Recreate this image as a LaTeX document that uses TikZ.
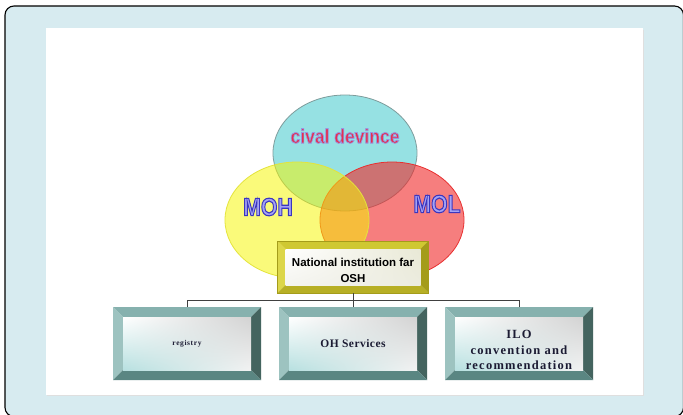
\documentclass[tikz,border=0pt]{standalone}
\usepackage{fontspec}
\setmainfont{Liberation Serif}
\setsansfont{Liberation Sans}
\usepackage{graphicx}
\usetikzlibrary{positioning, shadings}

\definecolor{framebg}{HTML}{D7EBF0}
\definecolor{cyanfill}{HTML}{96E1E3}
\definecolor{cyanrim}{HTML}{7E9C9C}
\definecolor{redfill}{HTML}{F02828}
\definecolor{redrim}{HTML}{E83030}
\definecolor{yellowfill}{HTML}{F7F700}
\definecolor{yellowrim}{HTML}{E4E43C}
\definecolor{civalred}{HTML}{E6304E}
\definecolor{mofill}{HTML}{A4A2F4}
\definecolor{tealtop}{HTML}{86B1AE}
\definecolor{tealleft}{HTML}{9DC3C0}
\definecolor{tealright}{HTML}{44645F}
\definecolor{tealbot}{HTML}{5A8682}
\definecolor{olivetop}{HTML}{CFC832}
\definecolor{oliveleft}{HTML}{DCD64A}
\definecolor{oliveright}{HTML}{A49C1A}
\definecolor{olivebot}{HTML}{B7AF25}
\definecolor{boxtext}{HTML}{1B1B33}
\definecolor{connline}{HTML}{404040}

% word-art text: filled glyphs with a stroked rim (rim rgb, rim width, text)
\newcommand\rimtext[3]{%
  \special{pdf:literal direct 2 Tr #2 w #1 RG}#3\special{pdf:literal direct 0 Tr}}

% four bevel bands and a shaded face inside a node
\newcommand\bevelfill[6]{%
  \path (path picture bounding box.north west) coordinate (bv-nw)
        (path picture bounding box.north east) coordinate (bv-ne)
        (path picture bounding box.south west) coordinate (bv-sw)
        (path picture bounding box.south east) coordinate (bv-se);
  \path ([xshift=#1,yshift=-#1]bv-nw) coordinate (bv-inw)
        ([xshift=-#1,yshift=-#1]bv-ne) coordinate (bv-ine)
        ([xshift=#1,yshift=#1]bv-sw) coordinate (bv-isw)
        ([xshift=-#1,yshift=#1]bv-se) coordinate (bv-ise);
  \fill[#2] (bv-nw) -- (bv-ne) -- (bv-ine) -- (bv-inw) -- cycle;
  \fill[#3] (bv-nw) -- (bv-inw) -- (bv-isw) -- (bv-sw) -- cycle;
  \fill[#4] (bv-ne) -- (bv-se) -- (bv-ise) -- (bv-ine) -- cycle;
  \fill[#5] (bv-sw) -- (bv-isw) -- (bv-ise) -- (bv-se) -- cycle;
  \shade[#6] (bv-inw) rectangle (bv-ise);
}

\tikzset{
  tealbox/.style={rectangle, minimum width=148pt, minimum height=73pt, inner sep=0pt, align=center,
    text=boxtext, font=\rmfamily\bfseries\fontsize{11.5}{16}\selectfont,
    path picture={\bevelfill{10pt}{tealtop}{tealleft}{tealright}{tealbot}%
      {upper left=white, upper right=gray!35, lower left=gray!60!cyan!40, lower right=gray!10}}},
  natbox/.style={rectangle, minimum width=151pt, minimum height=52pt, inner sep=0pt, align=center,
    draw=oliveright, line width=0.4pt,
    font=\sffamily\bfseries\fontsize{11.5}{16}\selectfont,
    path picture={\bevelfill{8pt}{olivetop}{oliveleft}{oliveright}{olivebot}%
      {upper left=white, upper right=yellow!30!gray!25, lower left=yellow!15!gray!10, lower right=yellow!25!gray!20}}},
  wordart/.style={inner sep=0pt, font=\sffamily\bfseries\fontsize{25}{25}\selectfont}
}

\begin{document}
\begin{tikzpicture}[x=1pt, y=-1pt,
    conn/.style={draw=connline, line width=0.9pt}]

% Panels
\useasboundingbox (0,0) rectangle (683,415);
\filldraw[fill=framebg, draw=black, line width=1.1pt, rounded corners=9pt] (5,6) rectangle (683.5,416.5);
\fill[gray!25] (47,29.5) rectangle (644,396);
\fill[white] (46,28) rectangle (643,395);

% Venn ellipses
\filldraw[fill=cyanfill, draw=cyanrim, line width=0.8pt] (345,153) ellipse [x radius=72, y radius=58];
\filldraw[fill=redfill, fill opacity=0.6, draw=redrim, line width=0.8pt] (392,220) ellipse [x radius=72, y radius=58];
\filldraw[fill=yellowfill, fill opacity=0.52, draw=yellowrim, line width=0.8pt] (297,220) ellipse [x radius=72, y radius=58];

% Ellipse labels
\node[wordart, text=civalred, font=\sffamily\bfseries\fontsize{20}{20}\selectfont] (cival) at (345,136)
  {\scalebox{0.875}[1]{\rimtext{0.6 0.58 0.88}{0.8}{cival devince}}};
\node[wordart, text=mofill] (moh) at (268,207) {\scalebox{0.85}[1]{\rimtext{0.23 0.21 0.75}{1.1}{MOH}}};
\node[wordart, text=mofill] (mol) at (437,204) {\scalebox{0.85}[1]{\rimtext{0.23 0.21 0.75}{1.1}{MOL}}};

% Boxes
\node[natbox] (nat) at (353,267) {\rule{0pt}{15pt}National institution far\\OSH};
\node[tealbox] (reg) at (187,343.5) {\fontsize{7.5}{9}\selectfont\addfontfeatures{LetterSpace=8}registry};
\node[tealbox] (ohs) at (353,343.5) {\addfontfeatures{LetterSpace=4}OH Services};
\node[tealbox, font=\rmfamily\bfseries\fontsize{12.5}{15.5}\selectfont\addfontfeatures{LetterSpace=10}] (ilo) at (519,343.5)
  {\rule{0pt}{22pt}ILO\\convention and\\recommendation};

% Tree lines
\draw[conn] (nat.south) -- ++(0,7) -| (reg.north);
\draw[conn] (nat.south) -- ++(0,7) -| (ilo.north);
\draw[conn] (nat.south) -- (ohs.north);

\end{tikzpicture}
\end{document}
